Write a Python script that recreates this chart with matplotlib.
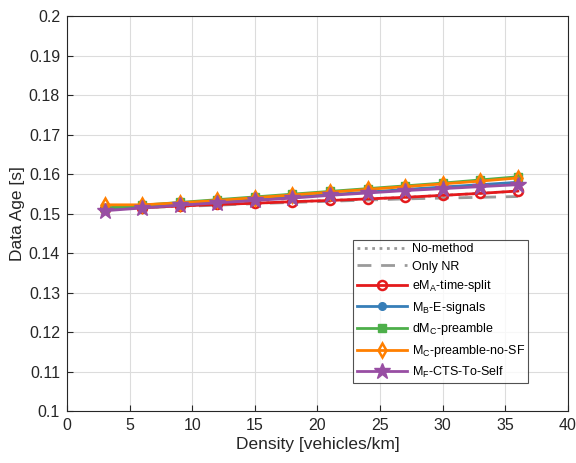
import matplotlib
matplotlib.use("Agg")
import matplotlib.pyplot as plt

plt.rcParams['font.family'] = ['Liberation Sans', 'DejaVu Sans']
plt.rcParams['mathtext.fontset'] = 'custom'
plt.rcParams['mathtext.rm'] = 'Liberation Sans'
plt.rcParams['mathtext.it'] = 'Liberation Sans'
plt.rcParams['mathtext.bf'] = 'Liberation Sans:bold'

density = [3, 6, 9, 12, 15, 18, 21, 24, 27, 30, 33, 36]

no_method = [0.1512, 0.1515, 0.1519, 0.1523, 0.1526, 0.1530, 0.1533, 0.1537, 0.1541, 0.1546, 0.1551, 0.1557]
only_nr   = [0.1512, 0.1515, 0.1518, 0.1521, 0.1525, 0.1528, 0.1531, 0.1534, 0.1537, 0.1539, 0.1541, 0.1543]
ema_time_split = [0.1512, 0.1515, 0.1519, 0.1523, 0.1526, 0.1530, 0.1533, 0.1537, 0.1541, 0.1546, 0.1551, 0.1557]
mb_e_signals   = [0.1510, 0.1517, 0.1523, 0.1530, 0.1536, 0.1542, 0.1548, 0.1554, 0.1561, 0.1567, 0.1573, 0.1579]
dmc_preamble   = [0.1514, 0.1521, 0.1528, 0.1535, 0.1542, 0.1549, 0.1556, 0.1563, 0.1570, 0.1577, 0.1585, 0.1593]
mc_preamble_no_sf = [0.1522, 0.1522, 0.1527, 0.1533, 0.1540, 0.1547, 0.1554, 0.1561, 0.1568, 0.1575, 0.1582, 0.1590]
mf_cts_to_self = [0.1507, 0.1514, 0.1521, 0.1527, 0.1533, 0.1539, 0.1546, 0.1552, 0.1558, 0.1563, 0.1568, 0.1573]

labels = ['No-method', 'Only NR', r'eM$_\mathrm{A}$-time-split', r'M$_\mathrm{B}$-E-signals',
          r'dM$_\mathrm{C}$-preamble', r'M$_\mathrm{C}$-preamble-no-SF', r'M$_\mathrm{F}$-CTS-To-Self']

fig = plt.figure(figsize=(5.76, 4.63), dpi=100)
ax = fig.add_axes([0.1163, 0.1123, 0.8697, 0.8531])

gray = '#9a9a9a'
ax.plot(density, no_method, linestyle=':', color=gray, lw=2, label=labels[0])
ax.plot(density, only_nr, linestyle=(0, (5, 3.5)), color=gray, lw=2, label=labels[1])
ax.plot(density, ema_time_split, '-o', color='#E41A1C', lw=2, ms=6.5, mfc='none', mew=1.8, label=labels[2])
ax.plot(density, mb_e_signals, '-o', color='#377EB8', lw=2, ms=5.5, label=labels[3])
ax.plot(density, dmc_preamble, '-s', color='#4DAF4A', lw=2, ms=6, label=labels[4])
ax.plot(density, mc_preamble_no_sf, '-d', color='#FF7F00', lw=2, ms=7.5, mfc='none', mew=1.8, label=labels[5])
ax.plot(density, mf_cts_to_self, '-*', color='#984EA3', lw=2, ms=12, label=labels[6])

ax.set_xlim(0, 40)
ax.set_ylim(0.1, 0.2)
ax.set_xticks([0, 5, 10, 15, 20, 25, 30, 35, 40])
ax.set_yticks([0.1, 0.11, 0.12, 0.13, 0.14, 0.15, 0.16, 0.17, 0.18, 0.19, 0.2])
ax.set_yticklabels(['0.1', '0.11', '0.12', '0.13', '0.14', '0.15', '0.16', '0.17', '0.18', '0.19', '0.2'])
ax.grid(True, color='#dcdcdc', lw=0.8)
ax.set_axisbelow(True)
ax.tick_params(direction='in', length=4, labelsize=11.5, colors='#262626', labelcolor='#262626', pad=5)
for s in ax.spines.values():
    s.set_color('#262626')
    s.set_linewidth(0.8)

ax.set_xlabel('Density [vehicles/km]', fontsize=12.5, color='#262626', labelpad=3)
ax.set_ylabel('Data Age [s]', fontsize=12.5, color='#262626', labelpad=3)

leg = ax.legend(loc='lower right', bbox_to_anchor=(0.920, 0.071), fontsize=9, frameon=True, fancybox=False,
                edgecolor='#262626', handlelength=4.0, borderpad=0.25, labelspacing=0.45, handletextpad=0.4,
                borderaxespad=0)
leg.get_frame().set_linewidth(0.8)

fig.savefig('out.png', dpi=100)
